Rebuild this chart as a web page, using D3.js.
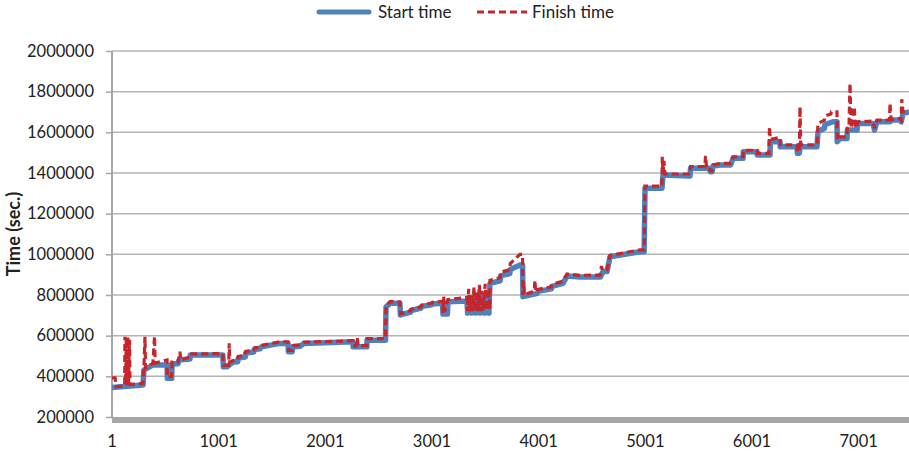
<!DOCTYPE html>
<html>
<head>
<meta charset="utf-8">
<script src="https://cdn.jsdelivr.net/npm/d3@7"></script>
<style>
  body { margin: 0; background: #fff; }
  svg text { font-family: Lato, "Open Sans", sans-serif; fill: #222; }
</style>
</head>
<body>
<div id="chart"></div>
<script>
// [task index, seconds] breakpoints
var startTime = [
  [1,345000],[292,357000],[300,431000],[385,456000],[517,456000],[520,390000],[560,390000],[564,462000],
  [620,462000],[630,480000],[732,485000],[735,505000],[1040,505000],[1045,447000],[1079,447000],[1135,470000],
  [1180,472000],[1185,490000],[1250,495000],[1255,515000],[1330,520000],[1335,532000],
  [1389,535000],[1400,545000],[1576,562000],[1651,562000],[1655,521000],[1690,521000],[1698,545000],[1764,548000],
  [1800,562000],[2260,570000],[2262,545000],[2390,545000],[2392,578000],[2565,578000],[2570,742000],[2610,759000],
  [2700,759000],[2705,702000],[2800,716000],[2805,724000],[2900,736000],[2905,744000],[3000,752000],[3005,756000],
  [3076,759000],[3100,759000],[3104,706000],[3145,706000],[3151,767000],[3329,770000],
  [3335,711000],[3340,785000],[3370,785000],[3375,711000],[3380,785000],[3410,785000],[3415,711000],[3420,790000],
  [3450,790000],[3455,711000],[3460,795000],[3490,795000],[3495,711000],[3500,800000],[3530,800000],[3535,711000],
  [3540,800000],[3545,857000],[3640,870000],[3645,895000],[3730,905000],[3735,925000],[3826,947000],[3850,947000],
  [3854,792000],[3990,808000],[3995,818000],[4120,830000],[4125,842000],
  [4229,857000],[4267,893000],[4389,888000],[4580,888000],[4604,915000],[4642,915000],[4670,988000],[4951,1013000],
  [4990,1013000],[4998,1325000],[5157,1325000],[5167,1390000],[5420,1385000],[5425,1423000],[5600,1423000],
  [5610,1406000],[5626,1406000],[5636,1434000],[5701,1439000],
  [5800,1439000],[5823,1472000],[5917,1472000],[5920,1505000],[6048,1505000],[6050,1489000],[6170,1489000],
  [6172,1554000],[6264,1554000],[6266,1529000],[6423,1529000],[6427,1497000],[6445,1497000],[6451,1529000],
  [6610,1529000],[6620,1603000],[6680,1620000],[6685,1638000],[6760,1652000],[6798,1652000],[6800,1554000],
  [6826,1570000],[6892,1570000],
  [6895,1611000],[6986,1611000],[6990,1644000],[7136,1644000],[7150,1611000],[7173,1652000],[7295,1652000],
  [7314,1661000],[7389,1661000],[7400,1652000],[7417,1693000],[7473,1700000]
];

var finishTime = [
  [1,392000],[30,392000],[40,350000],[120,352000],[122,595000],[128,360000],[135,590000],[140,355000],
  [150,595000],[155,360000],[165,580000],[170,360000],[290,365000],[300,440000],[310,595000],[315,440000],
  [385,465000],[400,597000],[405,465000],[517,480000],[520,395000],[560,400000],[564,470000],[620,470000],
  [638,521000],[645,480000],[732,495000],[735,510000],[1040,512000],[1045,455000],[1095,455000],[1100,562000],
  [1105,470000],[1135,478000],[1180,480000],[1185,498000],[1250,503000],[1255,523000],[1330,528000],[1335,540000],
  [1389,543000],[1400,552000],[1576,570000],[1651,570000],[1655,528000],[1690,528000],
  [1698,552000],[1764,555000],[1800,568000],[2260,575000],[2262,550000],[2290,550000],[2300,589000],[2310,550000],
  [2390,552000],[2392,585000],[2565,585000],[2570,748000],[2610,768000],[2700,765000],[2705,708000],
  [2800,722000],[2805,730000],[2900,742000],[2905,750000],[3000,760000],[3005,764000],[3076,768000],
  [3100,770000],[3104,712000],[3110,792000],[3120,720000],[3151,778000],[3329,788000],
  [3335,720000],[3345,830000],[3355,720000],[3370,800000],[3380,720000],[3395,840000],[3405,720000],[3420,820000],
  [3430,720000],[3445,850000],[3455,720000],[3470,820000],[3480,725000],[3500,855000],[3510,725000],[3530,830000],
  [3540,728000],[3545,872000],[3640,885000],[3645,912000],[3730,925000],[3735,955000],[3826,1000000],[3850,1000000],
  [3854,800000],[3860,865000],[3866,800000],
  [3960,820000],[3966,873000],[3972,815000],[3990,818000],[3995,828000],[4120,840000],[4125,852000],
  [4229,868000],[4267,903000],[4389,897000],[4576,898000],[4590,942000],
  [4600,920000],[4642,925000],[4670,995000],[4951,1022000],[4990,1022000],[4998,1335000],[5157,1335000],
  [5160,1480000],[5167,1400000],[5175,1460000],[5185,1395000],[5420,1395000],[5425,1432000],[5560,1432000],
  [5565,1484000],[5575,1430000],[5600,1432000],[5610,1410000],[5626,1410000],[5636,1440000],[5700,1447000],
  [5800,1447000],[5823,1480000],[5917,1480000],[5920,1512000],[6048,1512000],[6050,1497000],[6160,1497000],
  [6165,1628000],[6172,1565000],[6264,1575000],[6266,1538000],[6423,1538000],[6427,1505000],[6445,1505000],
  [6451,1726000],[6458,1538000],[6610,1538000],[6620,1644000],[6680,1660000],[6685,1680000],[6740,1690000],
  [6745,1701000],[6798,1701000],
  [6800,1562000],[6826,1578000],[6892,1578000],[6895,1620000],[6910,1620000],[6920,1841000],[6930,1620000],
  [6960,1726000],[6968,1625000],[6986,1625000],[6990,1652000],[7136,1655000],[7150,1620000],[7173,1660000],
  [7290,1660000],[7295,1743000],[7305,1662000],[7389,1668000],[7400,1660000],[7405,1763000],[7417,1700000],
  [7473,1705000]
];

var xTicks = [1, 1001, 2001, 3001, 4001, 5001, 6001, 7001];
var yTicks = [200000, 400000, 600000, 800000, 1000000, 1200000, 1400000, 1600000, 1800000, 2000000];
var seriesNames = ["Start time", "Finish time"];
var taskCount = 7473;

var width = 909, height = 454;
var margin = {top: 51, right: 0, bottom: 37, left: 112};

var svg = d3.select("#chart").append("svg")
    .attr("width", width)
    .attr("height", height);

var x = d3.scaleLinear()
    .domain([1, taskCount])
    .range([margin.left, width - margin.right]);
var y = d3.scaleLinear()
    .domain([200000, 2000000])
    .range([height - margin.bottom, margin.top]);

// y ticks and labels
svg.append("g")
    .attr("transform", "translate(" + margin.left + ",0)")
    .call(d3.axisLeft(y).tickValues(yTicks).tickSize(6).tickFormat(d3.format("d")))
    .call(g => g.select(".domain").remove())
    .call(g => g.selectAll(".tick line").attr("stroke", "#a6a6a6").attr("stroke-width", 1.5))
    .call(g => g.selectAll(".tick text").attr("x", -18).attr("font-size", 16.5).style("font-family", "Lato, sans-serif").attr("fill", "#222"));

// gridlines
svg.append("g")
    .selectAll("line")
    .data(yTicks.slice(1))
    .enter().append("line")
    .attr("x1", margin.left).attr("x2", width - margin.right)
    .attr("y1", d => y(d)).attr("y2", d => y(d))
    .attr("stroke", "#b4b4b4").attr("stroke-width", 1.5);

// y axis line
svg.append("line")
    .attr("x1", margin.left).attr("x2", margin.left)
    .attr("y1", y(2000000)).attr("y2", y(200000))
    .attr("stroke", "#a6a6a6").attr("stroke-width", 2);

// x axis: dense category ticks render as a solid band
svg.append("line")
    .attr("x1", x(1)).attr("x2", x(taskCount))
    .attr("y1", y(200000) + 3).attr("y2", y(200000) + 3)
    .attr("stroke", "#a6a6a6").attr("stroke-width", 6);

svg.append("g")
    .selectAll("text")
    .data(xTicks)
    .enter().append("text")
    .attr("x", d => x(d))
    .attr("y", y(200000) + 30)
    .attr("text-anchor", "middle")
    .attr("font-size", 16.5)
    .text(d => d);

// y title
svg.append("text")
    .attr("transform", "translate(20," + ((y(200000) + y(2000000)) / 2) + ")rotate(-90)")
    .attr("text-anchor", "middle")
    .attr("font-size", 18)
    .attr("font-weight", "bold")
    .text("Time (sec.)");

var line = d3.line()
    .x(d => x(d[0]))
    .y(d => y(d[1]));

svg.append("path")
    .datum(startTime)
    .attr("fill", "none")
    .attr("stroke", "#4f81bd")
    .attr("stroke-width", 5.5)
    .attr("stroke-linejoin", "round")
    .attr("d", line);

svg.append("path")
    .datum(finishTime)
    .attr("fill", "none")
    .attr("stroke", "#c6262b")
    .attr("stroke-width", 3.2)
    .attr("stroke-dasharray", "7,4")
    .attr("d", line);

// legend
var legend = svg.append("g");
var legendItems = [
  {name: seriesNames[0], x: 319, color: "#4f81bd", w: 5, dash: null},
  {name: seriesNames[1], x: 477, color: "#c6262b", w: 3, dash: "7,4"}
];
legendItems.forEach(function(item) {
    legend.append("line")
        .attr("x1", item.x).attr("x2", item.x + 50)
        .attr("y1", 12).attr("y2", 12)
        .attr("stroke", item.color)
        .attr("stroke-width", item.w)
        .attr("stroke-linecap", item.dash ? "butt" : "round")
        .attr("stroke-dasharray", item.dash);
    legend.append("text")
        .attr("x", item.x + (item.dash ? 55 : 59))
        .attr("y", 18)
        .attr("font-size", 17)
        .text(item.name);
});
</script>
</body>
</html>
